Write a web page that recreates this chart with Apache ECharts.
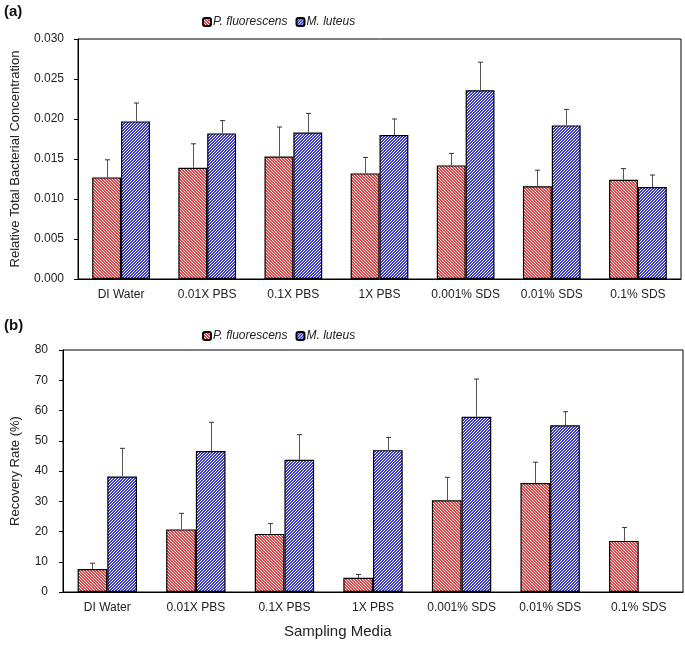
<!DOCTYPE html>
<html>
<head>
<meta charset="utf-8">
<script src="https://cdn.jsdelivr.net/npm/echarts@6/dist/echarts.min.js"></script>
<style>
  html, body { margin: 0; padding: 0; background: #fff; }
  #main { width: 685px; height: 648px; }
</style>
</head>
<body>
<div id="main"></div>
<script>
// categories
var categories = ["DI Water", "0.01X PBS", "0.1X PBS", "1X PBS", "0.001% SDS", "0.01% SDS", "0.1% SDS"];

// (a) relative total bacterial concentration
var fluorConc = [0.0127, 0.0139, 0.0153, 0.0132, 0.0142, 0.0116, 0.0124];
var fluorConcErr = [0.0022, 0.0030, 0.0037, 0.0020, 0.0015, 0.0020, 0.0014];
var luteusConc = [0.0197, 0.0182, 0.0183, 0.0180, 0.0236, 0.0192, 0.0115];
var luteusConcErr = [0.0023, 0.0016, 0.0024, 0.0020, 0.0035, 0.0020, 0.0015];

// (b) recovery rate (%)
var fluorRec = [7.6, 20.7, 19.2, 4.7, 30.3, 36.0, 16.9];
var fluorRecErr = [1.9, 5.3, 3.4, 1.1, 7.6, 6.9, 4.4];
var luteusRec = [38.2, 46.6, 43.7, 46.9, 57.9, 55.1, null];
var luteusRecErr = [9.3, 9.5, 8.3, 4.2, 12.5, 4.5, null];

var FONT = "Liberation Sans";

// hatch fill patterns
function hatch(color, dir) {
  var n = 3;
  var c = document.createElement("canvas");
  c.width = n; c.height = n;
  var ctx = c.getContext("2d");
  ctx.fillStyle = "#fff";
  ctx.fillRect(0, 0, n, n);
  ctx.fillStyle = color;
  for (var x = 0; x < n; x++) {
    for (var y = 0; y < n; y++) {
      var k = dir > 0 ? (x + y) % n : ((x - y) % n + n) % n;
      if (k < 2) ctx.fillRect(x, y, 1, 1);
    }
  }
  return { image: c, repeat: "repeat" };
}
var redFill = hatch("#e83c3e", -1);
var blueFill = hatch("#3a3ad4", 1);

function errData(vals, errs) {
  return vals.map(function (v, i) { return [i, v, errs[i]]; });
}

function errRender(sign) {
  return function (params, api) {
    var v = api.value(1), e = api.value(2);
    if (v == null || isNaN(v) || isNaN(e)) return;
    var cat = api.value(0);
    var band = api.size([1, 0])[0];
    var off = sign * band * 0.67 / 4;
    var p0 = api.coord([cat, v]);
    var p1 = api.coord([cat, v + e]);
    var x = Math.round(p0[0] + off) + 0.5;
    return {
      type: "group",
      children: [
        { type: "line", shape: { x1: x, y1: p0[1], x2: x, y2: p1[1] }, style: { stroke: "#555", lineWidth: 1 } },
        { type: "line", shape: { x1: x - 2.5, y1: p1[1], x2: x + 2.5, y2: p1[1] }, style: { stroke: "#333", lineWidth: 1 } }
      ]
    };
  };
}

function xAx(idx) {
  return {
    type: "category", gridIndex: idx, data: categories,
    axisLine: { lineStyle: { color: "#000", width: 1 } },
    axisTick: { alignWithLabel: true, length: 4, lineStyle: { color: "#000" } },
    axisLabel: { interval: 0, color: "#222", fontFamily: FONT, fontSize: 12, margin: 10 }
  };
}

var chart = echarts.init(document.getElementById("main"));
var opt = {
  animation: false,
  textStyle: { fontFamily: FONT },
  graphic: [
    { type: "text", left: 4, top: 4, style: { text: "(a)", font: "bold 15px " + FONT, fill: "#111" } },
    { type: "text", left: 4, top: 318, style: { text: "(b)", font: "bold 15px " + FONT, fill: "#111" } },
    { type: "text", left: 284, top: 624, style: { text: "Sampling Media", font: "15px " + FONT, fill: "#222" } }
  ],
  legend: [
    {
      left: 197, top: 11, itemWidth: 8, itemHeight: 8, itemGap: 8,
      data: ["P. fluorescens", "M. luteus"],
      textStyle: { fontStyle: "italic", fontSize: 12, color: "#222", fontFamily: FONT, padding: [0, 0, 0, -3] }
    },
    {
      left: 197, top: 325, itemWidth: 8, itemHeight: 8, itemGap: 8,
      data: ["P. fluorescens", "M. luteus"],
      textStyle: { fontStyle: "italic", fontSize: 12, color: "#222", fontFamily: FONT, padding: [0, 0, 0, -3] }
    }
  ],
  grid: [
    { left: 78, right: 4, top: 39, height: 240, show: true, borderColor: "#000", borderWidth: 1 },
    { left: 63, right: 2, top: 350, height: 242, show: true, borderColor: "#000", borderWidth: 1 }
  ],
  xAxis: [xAx(0), xAx(1)],
  yAxis: [
    {
      type: "value", gridIndex: 0, min: 0, max: 0.03, interval: 0.005,
      name: "Relative Total Bacterial Concentration", nameLocation: "middle", nameGap: 56,
      nameTextStyle: { fontSize: 13, color: "#222", fontFamily: FONT },
      axisLine: { show: true, lineStyle: { color: "#000" } },
      axisTick: { show: true, length: 4, lineStyle: { color: "#000" } },
      splitLine: { show: false },
      axisLabel: { color: "#222", fontSize: 12, fontFamily: FONT, margin: 14, formatter: function (v) { return v.toFixed(3); } }
    },
    {
      type: "value", gridIndex: 1, min: 0, max: 80, interval: 10,
      name: "Recovery Rate (%)", nameLocation: "middle", nameGap: 41,
      nameTextStyle: { fontSize: 13, color: "#222", fontFamily: FONT },
      axisLine: { show: true, lineStyle: { color: "#000" } },
      axisTick: { show: true, length: 4, lineStyle: { color: "#000" } },
      splitLine: { show: false },
      axisLabel: { color: "#222", fontSize: 12, fontFamily: FONT, margin: 15 }
    }
  ],
  series: [
    {
      name: "P. fluorescens", type: "bar", xAxisIndex: 0, yAxisIndex: 0, data: fluorConc,
      barGap: "0%", barCategoryGap: "33%",
      itemStyle: { color: redFill, borderColor: "#000", borderWidth: 1.2 }
    },
    {
      name: "M. luteus", type: "bar", xAxisIndex: 0, yAxisIndex: 0, data: luteusConc,
      barGap: "0%", barCategoryGap: "33%",
      itemStyle: { color: blueFill, borderColor: "#000", borderWidth: 1.2 }
    },
    {
      name: "P. fluorescens", type: "bar", xAxisIndex: 1, yAxisIndex: 1, data: fluorRec,
      barGap: "0%", barCategoryGap: "33%",
      itemStyle: { color: redFill, borderColor: "#000", borderWidth: 1.2 }
    },
    {
      name: "M. luteus", type: "bar", xAxisIndex: 1, yAxisIndex: 1, data: luteusRec,
      barGap: "0%", barCategoryGap: "33%",
      itemStyle: { color: blueFill, borderColor: "#000", borderWidth: 1.2 }
    },
    { type: "custom", xAxisIndex: 0, yAxisIndex: 0, z: 5, renderItem: errRender(-1), data: errData(fluorConc, fluorConcErr) },
    { type: "custom", xAxisIndex: 0, yAxisIndex: 0, z: 5, renderItem: errRender(1), data: errData(luteusConc, luteusConcErr) },
    { type: "custom", xAxisIndex: 1, yAxisIndex: 1, z: 5, renderItem: errRender(-1), data: errData(fluorRec, fluorRecErr) },
    { type: "custom", xAxisIndex: 1, yAxisIndex: 1, z: 5, renderItem: errRender(1), data: errData(luteusRec, luteusRecErr) }
  ]
};
chart.setOption(opt);
</script>
</body>
</html>
